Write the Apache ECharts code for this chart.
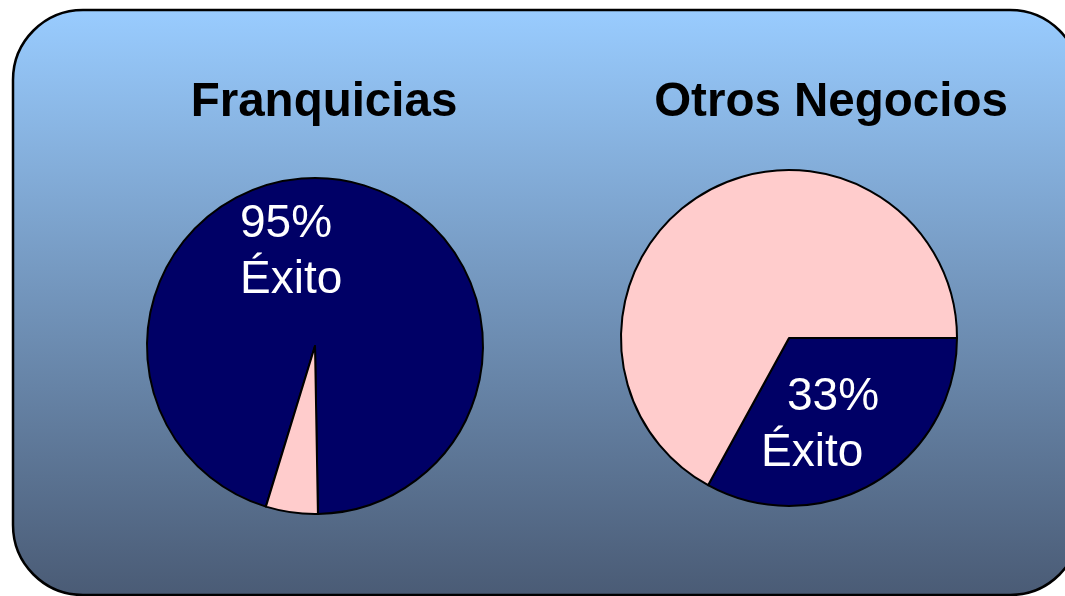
<!DOCTYPE html>
<html>
<head>
<meta charset="utf-8">
<script src="https://cdn.jsdelivr.net/npm/echarts@6/dist/echarts.min.js"></script>
<style>
  html, body { margin: 0; padding: 0; background: #fff; }
  #chart { width: 1065px; height: 596px; }
</style>
</head>
<body>
<div id="chart"></div>
<script>
// datos
const categorias = ['Éxito', 'Fracaso'];
const franquicias = [95, 5];
const otrosNegocios = [33, 67];
const titulos = ['Franquicias', 'Otros Negocios'];

const FONT = '"Liberation Sans", Arial, sans-serif';
const colores = ['#000066', '#FFCCCC'];

let chart = echarts.init(document.getElementById('chart'));

// arma los datos de un pie a partir de los arrays
const armarDatos = (valores) => {
  return valores.map((v, i) => ({
    name: categorias[i],
    value: v,
    itemStyle: { color: colores[i] },
    label: { show: i === 0 },
  }));
};

const etiqueta = (params) => {
  return '{a|' + params.value + '%}\n{b|' + params.name + '}';
};

let option = {
  animation: false,
  graphic: [
    {
      type: 'rect',
      z: -10,
      silent: true,
      shape: { x: 13, y: 10, width: 1067, height: 585, r: 70 },
      style: {
        fill: {
          type: 'linear',
          x: 0, y: 0, x2: 0, y2: 1,
          colorStops: [
            { offset: 0, color: '#99CCFF' },
            { offset: 1, color: '#4A5B75' },
          ],
        },
        stroke: '#000',
        lineWidth: 2.5,
      },
    },
  ],
  title: [
    {
      text: titulos[0],
      left: 324,
      top: 79,
      padding: 0,
      textAlign: 'center',
      textStyle: { fontFamily: FONT, fontSize: 47.5, fontWeight: 'bold', color: '#000' },
    },
    {
      text: titulos[1],
      left: 831,
      top: 79,
      padding: 0,
      textAlign: 'center',
      textStyle: { fontFamily: FONT, fontSize: 47.5, fontWeight: 'bold', color: '#000' },
    },
  ],
  series: [
    {
      name: titulos[0],
      type: 'pie',
      center: [315, 346],
      radius: 168,
      startAngle: 253,
      clockwise: true,
      silent: true,
      itemStyle: { borderColor: '#000', borderWidth: 2 },
      label: {
        position: 'inside',
        formatter: etiqueta,
        align: 'left',
        rich: {
          a: { fontFamily: FONT, fontSize: 46, lineHeight: 56, color: '#fff' },
          b: { fontFamily: FONT, fontSize: 46, lineHeight: 56, color: '#fff' },
        },
      },
      labelLayout: () => ({ x: 240, y: 196, align: 'left', verticalAlign: 'top' }),
      data: armarDatos(franquicias),
    },
    {
      name: titulos[1],
      type: 'pie',
      center: [789, 338],
      radius: 168,
      startAngle: 0,
      clockwise: true,
      silent: true,
      itemStyle: { borderColor: '#000', borderWidth: 2 },
      label: {
        position: 'inside',
        formatter: etiqueta,
        align: 'left',
        rich: {
          a: { fontFamily: FONT, fontSize: 46, lineHeight: 56, color: '#fff', padding: [0, 0, 0, 26] },
          b: { fontFamily: FONT, fontSize: 46, lineHeight: 56, color: '#fff' },
        },
      },
      labelLayout: () => ({ x: 761, y: 369, align: 'left', verticalAlign: 'top' }),
      data: armarDatos(otrosNegocios),
    },
  ],
};

chart.setOption(option);
</script>
</body>
</html>
